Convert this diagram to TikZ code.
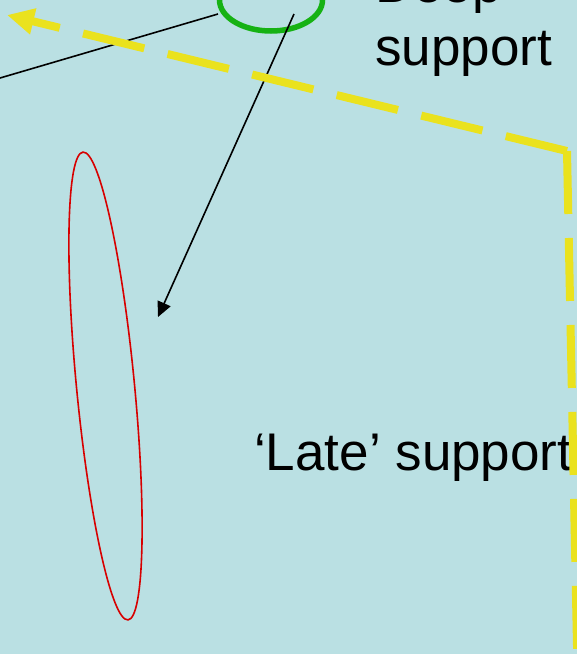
\documentclass[tikz,border=0pt]{standalone}
\usepackage{fontspec}
\setmainfont{Liberation Sans}
\usetikzlibrary{arrows.meta,shapes.geometric}
\definecolor{bgc}{RGB}{186,224,227}
\definecolor{yel}{RGB}{234,226,30}
\definecolor{grn}{RGB}{22,178,20}
\definecolor{redl}{RGB}{215,0,0}
\tikzset{
  yellowpath/.style={draw=yel, line width=8pt, dash pattern=on 63pt off 24pt},
  pointer/.style={draw=black, line width=1.6pt},
  bigtext/.style={font=\fontsize{53}{63}\selectfont, inner sep=0pt, anchor=base west}
}
\begin{document}
\begin{tikzpicture}[x=1pt,y=1pt]
\fill[bgc] (0,0) rectangle (577,-654);
\useasboundingbox (0,0) rectangle (577,-654);
\clip (0,0) rectangle (577,-654);
% texts
\node[bigtext] (deep) at (375,-2) {Deep};
\node[bigtext] (sup) at (375,-65) {support};
\node[bigtext] (late) at (254,-470) {‘Late’ support};
% red ellipse
\node[draw=redl, line width=1.6pt, ellipse, minimum width=58pt, minimum height=470pt, inner sep=0pt, rotate=5.5] (red) at (105.5,-386) {};
% green ellipse
\node[draw=grn, line width=5.5pt, ellipse, minimum width=103pt, minimum height=62pt, inner sep=0pt] (grn) at (271,0) {};
% pointers
\coordinate (p1s) at (218,-14);
\coordinate (p1e) at (-2,-78.6);
\coordinate (p2s) at (294,-14);
\coordinate (p2e) at (158,-317);
\draw[pointer] (p1s) -- (p1e);
\draw[pointer, -{Triangle[length=15pt,width=14pt]}] (p2s) -- (p2e);
% yellow dashed path
\coordinate (corner) at (567,-151);
\coordinate (bottom) at (577.5,-670);
\coordinate (tip) at (7,-15);
\draw[yellowpath] (corner) -- (bottom);
\draw[yellowpath, -{Triangle[length=27pt,width=25pt]}] (corner) -- (tip);
\end{tikzpicture}
\end{document}
